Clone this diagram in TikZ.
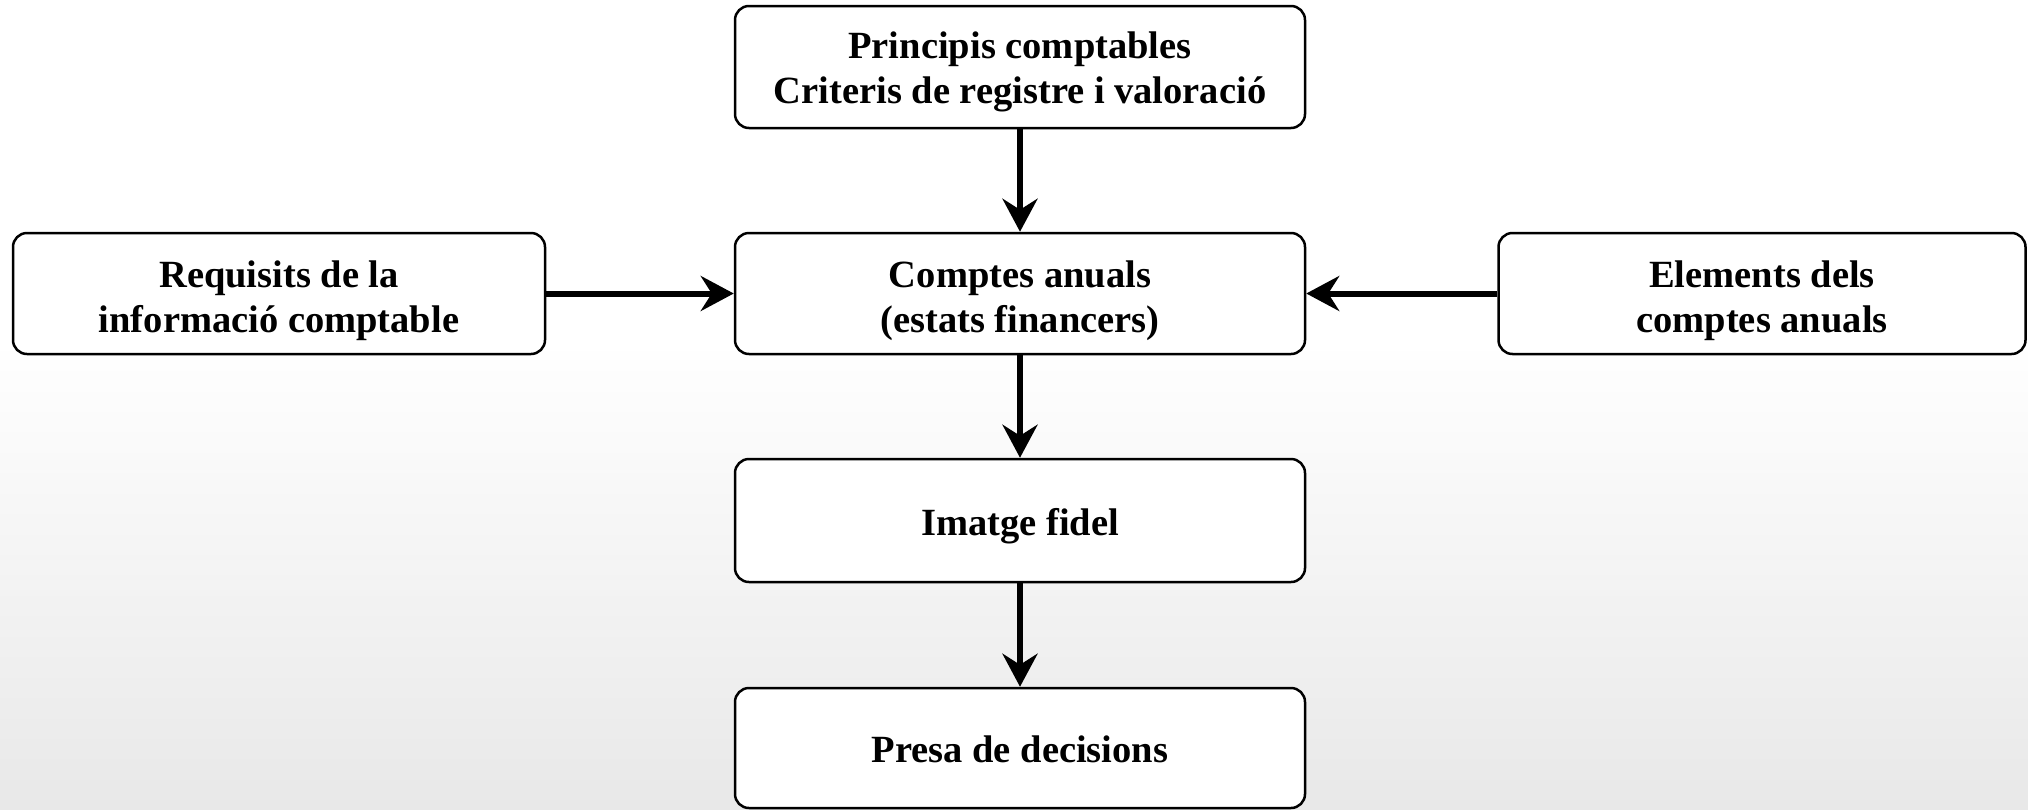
\documentclass[tikz,border=0pt]{standalone}
\usepackage{fontspec}
\setmainfont{Liberation Serif}
\usetikzlibrary{arrows.meta}
% Stack of centred lines whose first baseline sits #1 above the box centre
\newcommand\cardlines[2]{\raisebox{#1}[0pt][0pt]{\begin{tabular}[t]{@{}c@{}}#2\end{tabular}}}
\tikzset{
  card/.style={draw=black, line width=2.5pt, fill=white, rounded corners=14pt,
    inner sep=0pt, font=\bfseries\fontsize{38.5}{45}\selectfont},
  flow/.style={line width=6pt, -{Stealth[length=33pt,width=35pt,inset=11pt]}}
}
\begin{document}
\begin{tikzpicture}[x=1pt,y=-1pt]
  % page area with a soft grey fade towards the bottom
  \useasboundingbox (0,0) rectangle (2028,809);
  \fill[white] (0,0) rectangle (2028,340);
  \shade[top color=white, bottom color=black!9] (0,340) rectangle (2028,809);

  \node[card, minimum width=570pt, minimum height=122pt] (princ) at (1020,67)
    {\cardlines{8.5pt}{Principis comptables\\Criteris de registre i valoració}};
  \node[card, minimum width=570pt, minimum height=121pt] (comptes) at (1020,293.5)
    {\cardlines{6.5pt}{Comptes anuals\\(estats financers)}};
  \node[card, minimum width=532pt, minimum height=121pt] (requisits) at (279,293.5)
    {\cardlines{6.5pt}{Requisits de la\\informació comptable}};
  \node[card, minimum width=527pt, minimum height=121pt] (elements) at (1762,293.5)
    {\cardlines{6.5pt}{Elements dels\\comptes anuals}};
  \node[card, minimum width=570pt, minimum height=123pt] (imatge) at (1020,520.5)
    {\cardlines{-14.5pt}{Imatge fidel}};
  \node[card, minimum width=570pt, minimum height=120pt] (presa) at (1020,748)
    {\cardlines{-14.5pt}{Presa de decisions}};

  \draw[flow] (princ) -- (comptes);
  \draw[flow] (requisits) -- (comptes);
  \draw[flow] (elements) -- (comptes);
  \draw[flow] (comptes) -- (imatge);
  \draw[flow] (imatge) -- (presa);
\end{tikzpicture}
\end{document}
